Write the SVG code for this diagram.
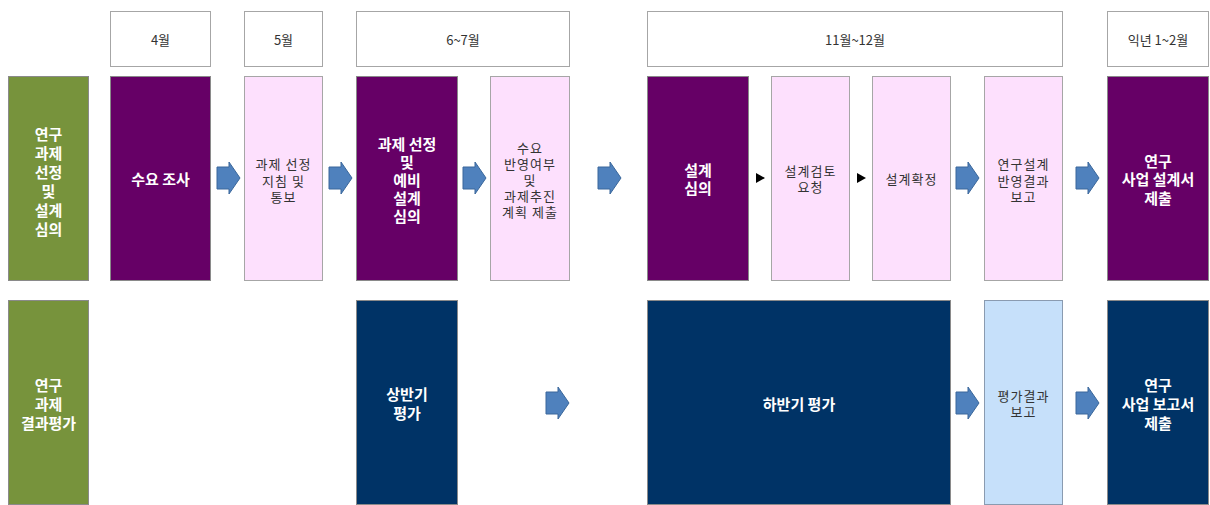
<svg xmlns="http://www.w3.org/2000/svg" width="1210" height="505" viewBox="0 0 1210 505">
<style>
.hd{fill:#fff;stroke:#a6a6a6;stroke-width:1}
.gr{fill:#77933c;stroke:#8a8a8a;stroke-width:1}
.pu{fill:#660066;stroke:#8a8a8a;stroke-width:1}
.pk{fill:#fde0fd;stroke:#a6a6a6;stroke-width:1}
.nv{fill:#003366;stroke:#8a8a8a;stroke-width:1}
.lb{fill:#c6e0fa;stroke:#8a9bb0;stroke-width:1}
text{font-family:"Noto Sans CJK KR","Noto Sans",sans-serif;text-anchor:middle;dominant-baseline:central}
.w{fill:#fff;font-size:15px;font-weight:bold}
.d{fill:#333;font-size:13px;letter-spacing:1px}
.h{fill:#333;font-size:13px}
.ba{fill:#4f81bd;stroke:#3a679b;stroke-width:1}
.tri{fill:#000}
</style>
<defs>
<path id="blk" d="M0,-11 H12 V-16 L23,0 L12,16 V11 H0 Z"/>
</defs>
<g id="headers">
<g id="h1"><rect class="hd" x="110.5" y="11.5" width="100" height="55"/><text class="h" x="160.5" y="39">4월</text></g>
<g id="h2"><rect class="hd" x="244.5" y="11.5" width="78" height="55"/><text class="h" x="283.5" y="39">5월</text></g>
<g id="h3"><rect class="hd" x="356.5" y="11.5" width="213" height="55"/><text class="h" x="463" y="39">6~7월</text></g>
<g id="h4"><rect class="hd" x="647.5" y="11.5" width="415" height="55"/><text class="h" x="855" y="39">11월~12월</text></g>
<g id="h5"><rect class="hd" x="1107.5" y="11.5" width="101" height="55"/><text class="h" x="1158" y="39">익년 1~2월</text></g>
</g>
<g id="n_row1label"><rect class="gr" x="8.5" y="76.5" width="80" height="204"/>
<text class="w" x="48.5"><tspan x="48.5" y="133">연구</tspan><tspan x="48.5" y="152">과제</tspan><tspan x="48.5" y="171">선정</tspan><tspan x="48.5" y="190">및</tspan><tspan x="48.5" y="209">설계</tspan><tspan x="48.5" y="228">심의</tspan></text></g>
<g id="n_survey"><rect class="pu" x="110.5" y="76.5" width="100" height="204"/><text class="w" x="160.5" y="178">수요 조사</text></g>
<g id="n_guide"><rect class="pk" x="244.5" y="76.5" width="78" height="204"/>
<text class="d"><tspan x="283.5" y="163">과제 선정</tspan><tspan x="283.5" y="180">지침 및</tspan><tspan x="283.5" y="196">통보</tspan></text></g>
<g id="n_select"><rect class="pu" x="356.5" y="76.5" width="101" height="204"/>
<text class="w"><tspan x="407" y="143">과제 선정</tspan><tspan x="407" y="161">및</tspan><tspan x="407" y="179">예비</tspan><tspan x="407" y="197">설계</tspan><tspan x="407" y="215">심의</tspan></text></g>
<g id="n_plan"><rect class="pk" x="490.5" y="76.5" width="79" height="204"/>
<text class="d"><tspan x="530" y="147">수요</tspan><tspan x="530" y="163">반영여부</tspan><tspan x="530" y="179">및</tspan><tspan x="530" y="195">과제추진</tspan><tspan x="530" y="211">계획 제출</tspan></text></g>
<g id="n_design"><rect class="pu" x="647.5" y="76.5" width="101" height="204"/>
<text class="w"><tspan x="698" y="169">설계</tspan><tspan x="698" y="187">심의</tspan></text></g>
<g id="n_review"><rect class="pk" x="771.5" y="76.5" width="78" height="204"/>
<text class="d"><tspan x="810.5" y="170">설계검토</tspan><tspan x="810.5" y="186">요청</tspan></text></g>
<g id="n_confirm"><rect class="pk" x="872.5" y="76.5" width="78" height="204"/><text class="d" x="911.5" y="178">설계확정</text></g>
<g id="n_report1"><rect class="pk" x="984.5" y="76.5" width="78" height="204"/>
<text class="d"><tspan x="1023.5" y="163">연구설계</tspan><tspan x="1023.5" y="180">반영결과</tspan><tspan x="1023.5" y="196">보고</tspan></text></g>
<g id="n_submit1"><rect class="pu" x="1107.5" y="76.5" width="101" height="204"/>
<text class="w"><tspan x="1158" y="160">연구</tspan><tspan x="1158" y="178">사업 설계서</tspan><tspan x="1158" y="197">제출</tspan></text></g>
<g id="n_row2label"><rect class="gr" x="8.5" y="300.5" width="80" height="204"/>
<text class="w"><tspan x="48.5" y="384">연구</tspan><tspan x="48.5" y="403">과제</tspan><tspan x="48.5" y="422">결과평가</tspan></text></g>
<g id="n_h1eval"><rect class="nv" x="356.5" y="300.5" width="101" height="204"/>
<text class="w"><tspan x="407" y="393">상반기</tspan><tspan x="407" y="412">평가</tspan></text></g>
<g id="n_h2eval"><rect class="nv" x="647.5" y="300.5" width="303" height="204"/><text class="w" x="799" y="403">하반기 평가</text></g>
<g id="n_evalreport"><rect class="lb" x="984.5" y="300.5" width="78" height="204"/>
<text class="d"><tspan x="1023.5" y="395">평가결과</tspan><tspan x="1023.5" y="411">보고</tspan></text></g>
<g id="n_submit2"><rect class="nv" x="1107.5" y="300.5" width="101" height="204"/>
<text class="w"><tspan x="1158" y="384">연구</tspan><tspan x="1158" y="403">사업 보고서</tspan><tspan x="1158" y="422">제출</tspan></text></g>
<g id="connectors">
<use href="#blk" class="ba" x="217" y="178"/>
<use href="#blk" class="ba" x="329" y="178"/>
<use href="#blk" class="ba" x="463" y="178"/>
<use href="#blk" class="ba" x="598" y="178"/>
<use href="#blk" class="ba" x="956" y="178"/>
<use href="#blk" class="ba" x="1076" y="178"/>
<use href="#blk" class="ba" x="546" y="403"/>
<use href="#blk" class="ba" x="956" y="403"/>
<use href="#blk" class="ba" x="1076" y="403"/>
<path class="tri" d="M756,173 L765,178 L756,183 Z"/>
<path class="tri" d="M857,173 L866,178 L857,183 Z"/>
</g>
</svg>
